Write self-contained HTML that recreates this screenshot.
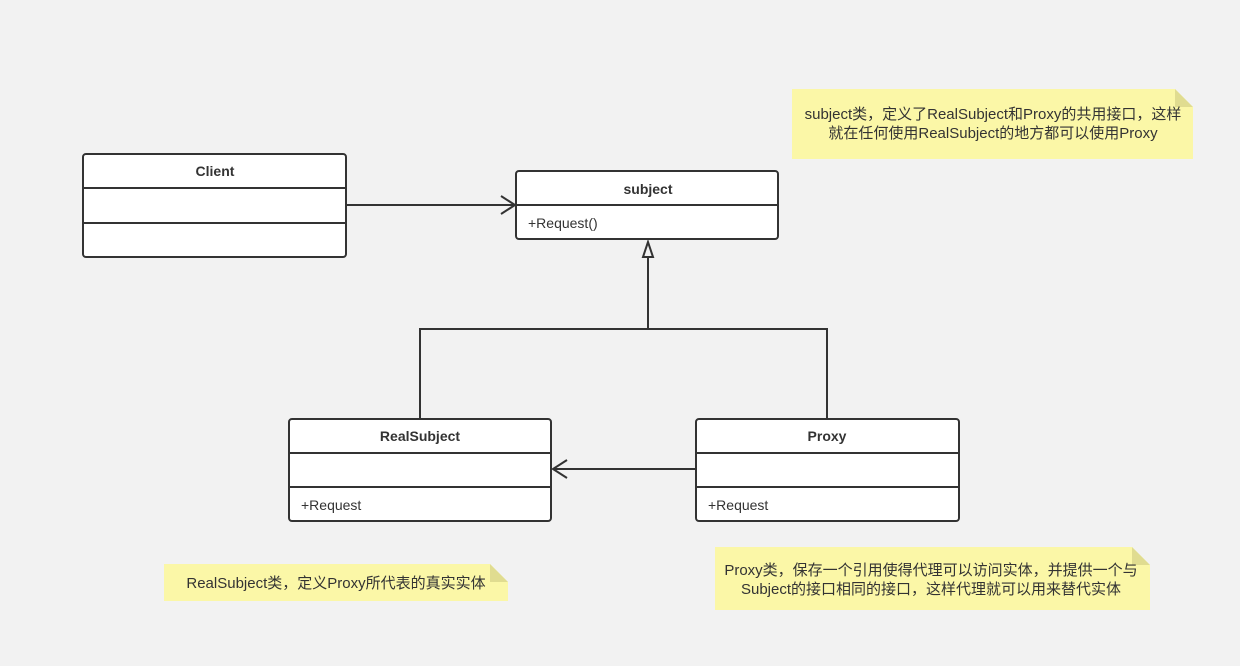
<!DOCTYPE html>
<html><head><meta charset="utf-8"><style>
html,body{margin:0;padding:0;background:#f2f2f2;}
svg{display:block}
text{font-family:"Liberation Sans","Noto Sans CJK SC",sans-serif;fill:#333;font-size:14px}
.b{font-weight:bold}
.n{font-size:15px}
</style></head><body>
<svg width="1240" height="666" viewBox="0 0 1240 666">
<rect width="1240" height="666" fill="#f2f2f2"/>
<g fill="#fff" stroke="#333" stroke-width="2">
<rect x="83" y="154" width="263" height="103" rx="3"/>
<line x1="83" y1="188" x2="346" y2="188"/><line x1="83" y1="223" x2="346" y2="223"/>
<rect x="516" y="171" width="262" height="68" rx="3"/>
<line x1="516" y1="205" x2="778" y2="205"/>
<rect x="289" y="419" width="262" height="102" rx="3"/>
<line x1="289" y1="453" x2="551" y2="453"/><line x1="289" y1="487" x2="551" y2="487"/>
<rect x="696" y="419" width="263" height="102" rx="3"/>
<line x1="696" y1="453" x2="959" y2="453"/><line x1="696" y1="487" x2="959" y2="487"/>
</g>
<g fill="none" stroke="#333" stroke-width="2">
<line x1="346" y1="205" x2="514" y2="205"/>
<polyline points="501,196 515,205 501,214"/>
<polyline points="420,419 420,329 827,329 827,419"/>
<line x1="648" y1="329" x2="648" y2="257"/>
<polygon points="648,242 643,257 653,257"/>
<line x1="696" y1="469" x2="553" y2="469"/>
<polyline points="567,460 553,469 567,478"/>
</g>
<text x="215" y="176" text-anchor="middle" class="b">Client</text>
<text x="648" y="194" text-anchor="middle" class="b">subject</text>
<text x="528" y="228">+Request()</text>
<text x="420" y="441" text-anchor="middle" class="b">RealSubject</text>
<text x="301" y="510">+Request</text>
<text x="827" y="441" text-anchor="middle" class="b">Proxy</text>
<text x="708" y="510">+Request</text>
<g fill="#fbf7a7">
<polygon points="792,89 1175,89 1193,107 1193,159 792,159"/>
<polygon points="164,564 490,564 508,582 508,601 164,601"/>
<polygon points="715,547 1132,547 1150,565 1150,610 715,610"/>
</g>
<g fill="#e0dc90">
<polygon points="1175,89 1193,107 1175,107"/>
<polygon points="490,564 508,582 490,582"/>
<polygon points="1132,547 1150,565 1132,565"/>
</g>
<text class="n" x="993" y="119" text-anchor="middle">subject类，定义了RealSubject和Proxy的共用接口，这样</text>
<text class="n" x="993" y="138" text-anchor="middle">就在任何使用RealSubject的地方都可以使用Proxy</text>
<text class="n" x="336" y="588" text-anchor="middle">RealSubject类，定义Proxy所代表的真实实体</text>
<text class="n" x="931" y="575" text-anchor="middle">Proxy类，保存一个引用使得代理可以访问实体，并提供一个与</text>
<text class="n" x="931" y="594" text-anchor="middle">Subject的接口相同的接口，这样代理就可以用来替代实体</text>
</svg>
</body></html>
